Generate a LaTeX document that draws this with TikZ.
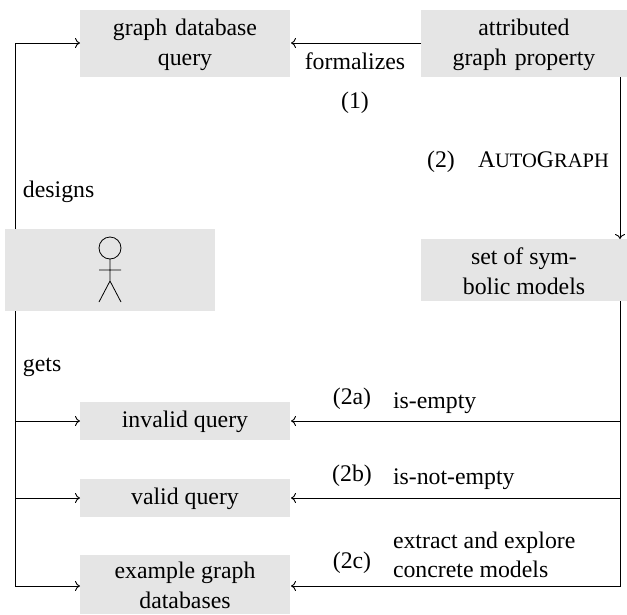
\documentclass[tikz,border=0pt]{standalone}
\usepackage{fontspec}
\setmainfont{Liberation Serif}
\usetikzlibrary{arrows.meta}
\newcommand{\smc}[1]{{\fontsize{20.5}{30}\selectfont #1}}
\newcommand{\lift}{\rule{0pt}{19pt}}
\definecolor{boxgray}{HTML}{E5E5E5}
\tikzset{
  x=1pt,y=-1pt,
  every node/.style={font=\fontsize{23.8}{30}\selectfont,inner sep=0pt,outer sep=0pt},
  boxnode/.style={fill=boxgray,align=center,anchor=north west},
  lbl/.style={anchor=base west},
  lblc/.style={anchor=base},
  conn/.style={draw=black,line width=0.9pt,-{To[length=5pt,width=10pt]}},
  stick/.style={draw=black,line width=0.8pt}
}
\begin{document}
\begin{tikzpicture}
\useasboundingbox (0,0) rectangle (627,614);
\node[boxnode,minimum width=210pt,minimum height=67pt] (gdq) at (80,10) {\lift graph\hspace{2pt} database\\query};
\node[boxnode,minimum width=206pt,minimum height=67pt] (agp) at (421,10) {\lift attributed\\graph\hspace{2pt} property};
\node[boxnode,minimum width=210pt,minimum height=82pt] (user) at (5,229) {};
\node[boxnode,minimum width=206pt,minimum height=62pt] (sym) at (421,239) {\lift set of sym-\\bolic models};
\node[boxnode,minimum width=210pt,minimum height=38pt] (inv) at (80,402) {\lift invalid query};
\node[boxnode,minimum width=210pt,minimum height=38pt] (val) at (80,479) {\lift valid query};
\node[boxnode,minimum width=210pt,minimum height=59pt] (ex) at (80,555) {\lift example graph\\databases};
% stick figure
\coordinate (head) at (110,248);
\draw[stick] (head) circle (11);
\draw[stick] (110,259) -- (110,281) (99,270) -- (121,270) (99,302) -- (110,281) -- (121,302);
% rails
\coordinate (Lx) at (15,0);
\coordinate (Rx) at (620,0);
\draw[conn] (user.north -| Lx) |- (gdq.west |- 0,43);
\draw[conn] (agp.west |- 0,43) -- ([xshift=1pt]gdq.east |- 0,43);
\draw[conn] (agp.south -| Rx) -- (sym.north -| Rx);
\draw[conn] (user.south -| Lx) |- (ex.west |- 0,586);
\draw[conn] (Lx |- inv.west) -- (inv.west);
\draw[conn] (Lx |- val.west) -- (val.west);
\draw[conn] (sym.south -| Rx) |- ([xshift=1pt]ex.east |- 0,586);
\draw[conn] (Rx |- inv.east) -- ([xshift=1pt]inv.east);
\draw[conn] (Rx |- val.east) -- ([xshift=1pt]val.east);
% labels
\node[lblc] (l1) at (355,69) {formalizes};
\node[lblc] (l2) at (355,108) {(1)};
\node[lblc] (l3) at (441,167) {(2)};
\node[lbl] (l4) at (478,167) {A\smc{UTO}G\smc{RAPH}};
\node[lbl] (l5) at (23,197) {designs};
\node[lbl] (l6) at (23,371) {gets};
\node[lblc] (l7) at (352,404) {(2a)};
\node[lbl] (l8) at (393,408) {is-empty};
\node[lblc] (l9) at (352,481) {(2b)};
\node[lbl] (l10) at (393,484) {is-not-empty};
\node[lblc] (l11) at (352,568) {(2c)};
\node[lbl] (l12) at (393,548) {extract and explore};
\node[lbl] (l13) at (393,577) {concrete models};
\end{tikzpicture}
\end{document}
